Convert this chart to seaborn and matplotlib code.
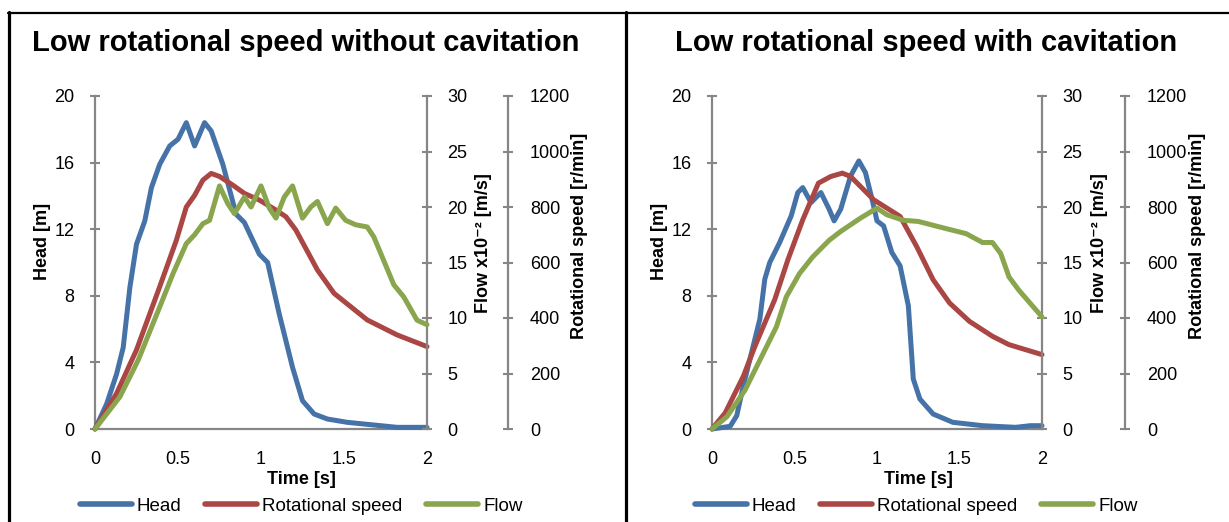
import matplotlib
matplotlib.use("Agg")
import matplotlib.pyplot as plt
import seaborn as sns
import pandas as pd
from matplotlib.lines import Line2D

sns.set_style("white")
plt.rcParams['font.family'] = ['Liberation Sans', 'DejaVu Sans']
plt.rcParams['text.color'] = 'black'
plt.rcParams['axes.labelcolor'] = 'black'
plt.rcParams['xtick.labelcolor'] = 'black'
plt.rcParams['ytick.labelcolor'] = 'black'

# ---------------- data ----------------
titles = ["Low rotational speed without cavitation", "Low rotational speed with cavitation"]
series_names = ["Head", "Rotational speed", "Flow"]
x_ticks = [0, 0.5, 1, 1.5, 2]
x_tick_labels = ["0", "0.5", "1", "1.5", "2"]
head_ticks = [0, 4, 8, 12, 16, 20]
flow_ticks = [0, 5, 10, 15, 20, 25, 30]
rot_ticks = [0, 200, 400, 600, 800, 1000, 1200]

# Panel 1: without cavitation
head1_t = [0, 0.07, 0.13, 0.17, 0.21, 0.25, 0.30, 0.34, 0.39, 0.45, 0.50, 0.55, 0.60, 0.66, 0.70,
           0.77, 0.85, 0.90, 0.99, 1.04, 1.11, 1.19, 1.25, 1.32, 1.40, 1.52, 1.72, 1.82, 2.0]
head1_v = [0, 1.5, 3.3, 4.9, 8.5, 11.1, 12.5, 14.5, 15.9, 17.0, 17.4, 18.4, 17.0, 18.4, 17.9,
           15.9, 12.9, 12.4, 10.5, 10.0, 6.9, 3.7, 1.7, 0.9, 0.6, 0.4, 0.2, 0.1, 0.1]
rot1_t = [0, 0.13, 0.25, 0.39, 0.49, 0.55, 0.60, 0.65, 0.70, 0.75, 0.83, 0.90, 0.99, 1.09,
          1.15, 1.21, 1.34, 1.44, 1.64, 1.82, 2.0]
rot1_v = [0, 128, 285, 513, 680, 800, 842, 897, 921, 910, 879, 849, 825, 789,
          765, 717, 573, 489, 393, 339, 297]
flow1_t = [0, 0.15, 0.26, 0.39, 0.47, 0.55, 0.60, 0.65, 0.69, 0.75, 0.80, 0.84, 0.90, 0.94,
           1.00, 1.05, 1.09, 1.14, 1.19, 1.25, 1.30, 1.34, 1.40, 1.45, 1.51, 1.57, 1.64, 1.68,
           1.80, 1.86, 1.94, 2.0]
flow1_v = [0, 2.9, 6.2, 11.0, 14.0, 16.7, 17.5, 18.5, 18.8, 21.9, 20.3, 19.4, 20.9, 20.0,
           21.9, 19.9, 19.0, 20.9, 21.9, 19.0, 20.0, 20.5, 18.5, 19.9, 18.8, 18.4, 18.2, 17.3,
           13.0, 11.9, 9.8, 9.4]

# Panel 2: with cavitation
head2_t = [0, 0.11, 0.15, 0.19, 0.25, 0.29, 0.32, 0.35, 0.41, 0.48, 0.52, 0.55, 0.60, 0.66,
           0.71, 0.74, 0.78, 0.84, 0.89, 0.93, 0.97, 1.00, 1.04, 1.09, 1.14, 1.19, 1.22, 1.26,
           1.34, 1.46, 1.64, 1.84, 1.93, 2.0]
head2_v = [0, 0.16, 0.8, 2.6, 5.0, 6.6, 9.0, 10.0, 11.2, 12.8, 14.2, 14.5, 13.6, 14.2,
           13.2, 12.5, 13.2, 15.2, 16.1, 15.4, 13.8, 12.5, 12.2, 10.6, 9.8, 7.4, 3.0, 1.8,
           0.9, 0.4, 0.2, 0.1, 0.2, 0.2]
rot2_t = [0, 0.08, 0.14, 0.19, 0.26, 0.38, 0.46, 0.55, 0.645, 0.72, 0.79, 0.84, 0.98, 1.14,
          1.24, 1.34, 1.44, 1.56, 1.70, 1.80, 2.0]
rot2_v = [0, 58, 130, 190, 298, 466, 610, 754, 886, 910, 922, 910, 826, 766,
          658, 538, 454, 388, 334, 304, 268]
flow2_t = [0, 0.09, 0.20, 0.30, 0.39, 0.45, 0.53, 0.61, 0.71, 0.78, 0.90, 1.00, 1.06, 1.16,
           1.25, 1.38, 1.54, 1.64, 1.70, 1.75, 1.80, 1.86, 2.0]
flow2_v = [0, 1.1, 3.5, 6.5, 9.2, 11.9, 14.0, 15.5, 17.0, 17.8, 19.0, 19.9, 19.3, 18.8,
           18.7, 18.2, 17.6, 16.8, 16.8, 15.8, 13.7, 12.5, 10.1]

panels = [
    (head1_t, head1_v, rot1_t, rot1_v, flow1_t, flow1_v),
    (head2_t, head2_v, rot2_t, rot2_v, flow2_t, flow2_v),
]

colors = ["#4572A7", "#AA4643", "#89A54E"]
gray = "#868686"

W, H = 1229, 522
fig = plt.figure(figsize=(W / 100, H / 100), dpi=100)

# pixel geometry of each panel: (axis left px, axis right px, rot axis px, title centre px, legend centre px)
geom = [(95, 427, 508, 306, 301), (712, 1042, 1125, 926, 916)]
top_px, bot_px = 96, 429

lw = 3.6
for (t_h, v_h, t_r, v_r, t_f, v_f), (xl, xr, xrot, tcx, lcx), title in zip(panels, geom, titles):
    ax = fig.add_axes([xl / W, 1 - bot_px / H, (xr - xl) / W, (bot_px - top_px) / H])
    axr = ax.twinx()
    axf = ax.twinx()
    pw = xr - xl
    ph = bot_px - top_px

    dh = pd.DataFrame({"t": t_h, "v": v_h})
    dr = pd.DataFrame({"t": t_r, "v": v_r})
    df = pd.DataFrame({"t": t_f, "v": v_f})
    sns.lineplot(data=dh, x="t", y="v", ax=ax, color=colors[0], lw=lw, estimator=None,
                 sort=False, solid_capstyle="round", solid_joinstyle="round", clip_on=False)
    sns.lineplot(data=dr, x="t", y="v", ax=axr, color=colors[1], lw=lw, estimator=None,
                 sort=False, solid_capstyle="round", solid_joinstyle="round", clip_on=False)
    sns.lineplot(data=df, x="t", y="v", ax=axf, color=colors[2], lw=lw, estimator=None,
                 sort=False, solid_capstyle="round", solid_joinstyle="round", clip_on=False)

    ax.set_xlim(0, 2)
    ax.set_ylim(0, 20)
    axr.set_ylim(0, 1200)
    axf.set_ylim(0, 30)

    ax.set_xticks(x_ticks)
    ax.set_xticklabels(x_tick_labels)
    ax.set_yticks(head_ticks)
    ax.set_yticklabels([str(v) for v in head_ticks])
    axf.set_yticks(flow_ticks)
    axf.set_yticklabels([str(v) for v in flow_ticks])
    axr.set_yticks(rot_ticks)
    axr.set_yticklabels([str(v) for v in rot_ticks])

    for a in (ax, axr, axf):
        for s in a.spines.values():
            s.set_visible(False)
        a.patch.set_visible(False)
    ax.spines["left"].set_visible(True)
    ax.spines["bottom"].set_visible(True)
    axf.spines["right"].set_visible(True)
    axr.spines["right"].set_visible(True)
    axr.spines["right"].set_position(("axes", (xrot - xl) / pw))
    for s in (ax.spines["left"], ax.spines["bottom"], axf.spines["right"], axr.spines["right"]):
        s.set_color(gray)
        s.set_linewidth(1.6)
        s.set_zorder(0.5)

    ax.tick_params(axis="both", direction="inout", length=7.5, width=1.5, color=gray,
                   labelsize=13, labelcolor="black", pad=11)
    ax.tick_params(axis="x", pad=12)
    axf.tick_params(axis="y", direction="inout", length=7.5, width=1.5, color=gray,
                    labelsize=13, labelcolor="black", pad=11)
    axr.tick_params(axis="y", direction="inout", length=7.5, width=1.5, color=gray,
                    labelsize=13, labelcolor="black", pad=12)

    ax.set_xlabel("Time [s]", fontsize=13, fontweight="bold", color="black")
    ax.xaxis.set_label_coords(((xl + xrot) / 2 - xl) / pw, (bot_px - 479) / ph)
    ax.xaxis.label.set_va("center")
    ax.set_ylabel("Head [m]", fontsize=13, fontweight="bold", color="black")
    ax.yaxis.set_label_coords(-53 / pw, (bot_px - 241) / ph)
    ax.yaxis.label.set_va("center")
    axf.set_ylabel("Flow x10\u207b\u00b2 [m/s]", fontsize=13, fontweight="bold", color="black")
    axf.yaxis.set_label_coords((xr + 57 - xl) / pw, (bot_px - 243) / ph)
    axf.yaxis.label.set_va("center")
    axf.yaxis.label.set_rotation(90)
    axr.set_ylabel("Rotational speed [r/min]", fontsize=13, fontweight="bold", color="black")
    axr.yaxis.set_label_coords((xrot + 72 - xl) / pw, (bot_px - 236) / ph)
    axr.yaxis.label.set_va("center")
    axr.yaxis.label.set_rotation(90)

    fig.text(tcx / W, 1 - 43 / H, title, fontsize=21, fontweight="bold",
             ha="center", va="center", color="black")

    handles = [Line2D([], [], color=c, lw=4, solid_capstyle="round") for c in colors]
    fig.legend(handles, series_names, loc="center", bbox_to_anchor=(lcx / W, 1 - 506 / H),
               ncol=3, frameon=False, fontsize=13.5, handlelength=2.8, handletextpad=0.25,
               columnspacing=1.25, borderpad=0, borderaxespad=0, labelcolor="black")

# panel borders
fig.add_artist(Line2D([8 / W, 1.0], [1 - 12.5 / H] * 2, color="black", lw=1.6))
fig.add_artist(Line2D([9 / W] * 2, [1 - 12 / H, 0], color="black", lw=2.3))
fig.add_artist(Line2D([626 / W] * 2, [1 - 12 / H, 0], color="black", lw=2.3))

fig.savefig("out.png", dpi=100)
